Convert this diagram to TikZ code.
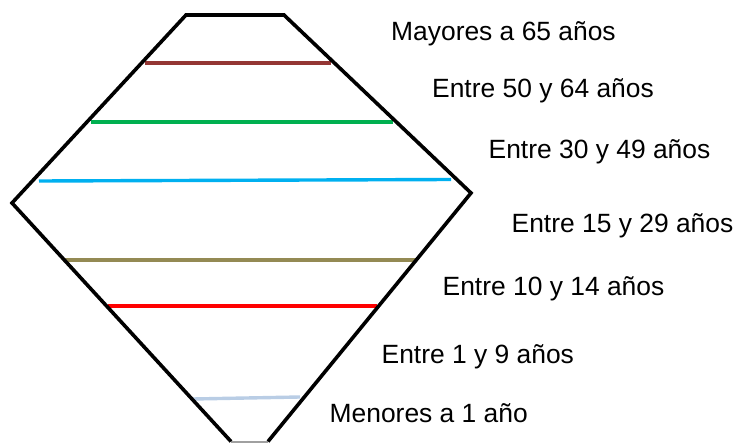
\documentclass[tikz,border=0pt]{standalone}
\usepackage{fontspec}
\setmainfont{Liberation Sans}
\definecolor{cbrown}{HTML}{943634}
\definecolor{cgreen}{HTML}{00B050}
\definecolor{ccyan}{HTML}{00B0F0}
\definecolor{colive}{HTML}{948A54}
\definecolor{cred}{HTML}{FF0000}
\definecolor{clblue}{HTML}{B9CDE5}
\definecolor{cgray}{HTML}{A0A0A0}
\begin{document}
\begin{tikzpicture}[x=1pt,y=-1pt,
  outline/.style={black,line width=3.6pt,line join=miter},
  band/.style={line width=3.4pt},
  lbl/.style={anchor=base west,inner sep=0pt,font=\fontsize{26.4}{30}\selectfont}]
\useasboundingbox (0,0) rectangle (736,443);
% outline vertices
\coordinate (tl) at (186,15);
\coordinate (tr) at (284,15);
\coordinate (r) at (471,193);
\coordinate (br) at (268,441.5);
\coordinate (bl) at (231,441.5);
\coordinate (l) at (12,203);
% bands
\draw[band,cbrown] (145,63) -- (331,63);
\draw[band,cgreen] (91,122) -- (393,122);
\draw[band,ccyan] (39,181) -- (451,179.5);
\draw[band,colive] (63,260) -- (416,260);
\draw[band,cred] (108,306) -- (377,306);
\draw[band,clblue] (193,399) -- (300,397);
% outline
\draw[cgray,line width=2pt] (bl) -- (br);
\draw[outline] (bl) -- (l) -- (tl) -- (tr) -- (r) -- (br);
% labels
\node[lbl] (t65) at (391,41) {Mayores a 65 años};
\node[lbl] (t50) at (432,98) {Entre 50 y 64 años};
\node[lbl] (t30) at (488.5,159) {Entre 30 y 49 años};
\node[lbl] (t15) at (511.5,233) {Entre 15 y 29 años};
\node[lbl] (t10) at (442.5,296) {Entre 10 y 14 años};
\node[lbl] (t1) at (381.5,363) {Entre 1 y 9 años};
\node[lbl] (t0) at (329.5,422) {Menores a 1 año};
\end{tikzpicture}
\end{document}
